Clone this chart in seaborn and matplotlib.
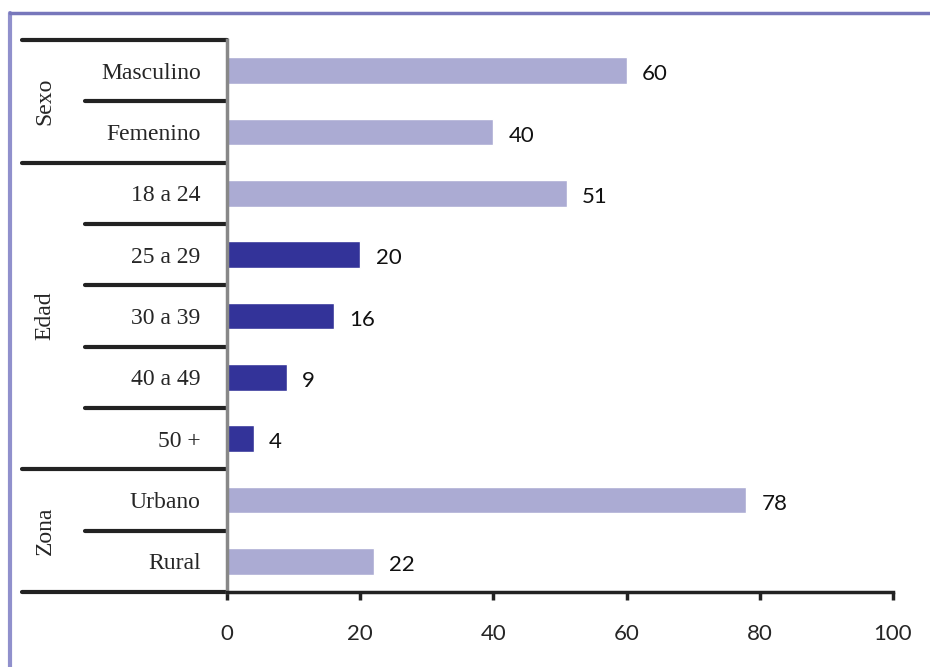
import matplotlib
matplotlib.use("Agg")
import matplotlib.pyplot as plt
from matplotlib.lines import Line2D
import seaborn as sns
import pandas as pd

categorias = ["Masculino", "Femenino", "18 a 24", "25 a 29", "30 a 39", "40 a 49", "50 +", "Urbano", "Rural"]
valores = [60, 40, 51, 20, 16, 9, 4, 78, 22]
tonos = ["claro", "claro", "claro", "oscuro", "oscuro", "oscuro", "oscuro", "claro", "claro"]
grupos = ["Sexo", "Edad", "Zona"]
grupo_filas = [(0, 1), (2, 6), (7, 8)]
xticks = [0, 20, 40, 60, 80, 100]

df = pd.DataFrame({"categoria": categorias, "valor": valores, "tono": tonos})

sns.set_style("white")
fig = plt.figure(figsize=(9.3, 6.67), dpi=100)
ax = fig.add_axes([227/930, 1-592/667, (893-227)/930, (592-40)/667])

sns.barplot(data=df, x="valor", y="categoria", hue="tono", order=categorias,
            palette={"claro": "#ABABD3", "oscuro": "#333399"}, dodge=False,
            legend=False, width=0.43, ax=ax, saturation=1)

ax.set_xlim(0, 100)
ax.set_ylim(8.5, -0.5)
ax.set_xlabel("")
ax.set_ylabel("")
ax.set_xticks(xticks)
ax.set_xticklabels([str(t) for t in xticks], fontsize=16, family="Lato")
ax.tick_params(axis="x", bottom=True, direction="out", length=6, width=2.5, color="#222222", pad=17)
ax.tick_params(axis="y", left=False, length=0, pad=19)
for lab in ax.get_yticklabels():
    lab.set_family("Liberation Serif")
    lab.set_fontsize(17)

for s in ["top", "right"]:
    ax.spines[s].set_visible(False)
ax.spines["left"].set_color("#888888")
ax.spines["left"].set_linewidth(2.5)
ax.spines["bottom"].set_color("#222222")
ax.spines["bottom"].set_linewidth(2.5)
ax.spines["bottom"].set_zorder(5)

for i, v in enumerate(valores):
    ax.text(v + 2.3, i + 0.06, str(v), va="center", ha="left", fontsize=16, family="Lato", color="#111111")

trans = ax.get_yaxis_transform()
x_out = (22 - 227) / 666
x_in = (85 - 227) / 666
for k, (a, b) in enumerate(grupo_filas):
    ax.plot([x_out, 0], [a - 0.5, a - 0.5], transform=trans, clip_on=False, color="#222222", lw=3, solid_capstyle="round")
    for r in range(a + 1, b + 1):
        ax.plot([x_in, 0], [r - 0.5, r - 0.5], transform=trans, clip_on=False, color="#222222", lw=3, solid_capstyle="round")
    ax.text((45 - 227) / 666, (a + b) / 2, grupos[k], transform=trans, rotation=90,
            ha="center", va="center", fontsize=17, family="Liberation Serif")
ax.plot([x_out, 0], [8.5, 8.5], transform=trans, clip_on=False, color="#222222", lw=3, solid_capstyle="round")

fig.add_artist(Line2D([10/930, 10/930], [0, 1-13/667], color="#9090CC", lw=3, transform=fig.transFigure))
fig.add_artist(Line2D([10/930, 1], [1-13/667, 1-13/667], color="#7777BB", lw=2.5, transform=fig.transFigure))

fig.savefig("out.png", dpi=100)
